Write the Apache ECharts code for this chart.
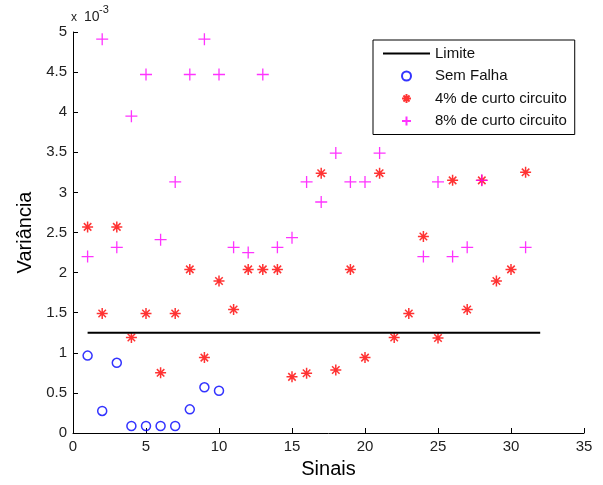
<!DOCTYPE html>
<html>
<head>
<meta charset="utf-8">
<script src="https://cdn.jsdelivr.net/npm/echarts@6/dist/echarts.min.js"></script>
<style>
  html, body { margin: 0; padding: 0; background: #fff; }
  #chart { width: 603px; height: 485px; }
</style>
</head>
<body>
<div id="chart"></div>
<script>
// values in units of 10^-3
var sinais = [1, 2, 3, 4, 5, 6, 7, 8, 9, 10, 11, 12, 13, 14, 15, 16, 17, 18, 19, 20, 21, 22, 23, 24, 25, 26, 27, 28, 29, 30, 31]
var limiteX = [1, 32]
var limiteY = [1.25, 1.25]

var semFalhaX = [1, 2, 3, 4, 5, 6, 7, 8, 9, 10]
var semFalhaY = [0.965, 0.275, 0.875, 0.087, 0.087, 0.087, 0.087, 0.295, 0.57, 0.527]

var curto4Y = [2.57, 1.49, 2.57, 1.19, 1.49, 0.75, 1.49, 2.04, 0.94, 1.895,
  1.54, 2.04, 2.04, 2.04, 0.70, 0.745, 3.24, 0.785, 2.04, 0.94,
  3.24, 1.19, 1.49, 2.45, 1.185, 3.15, 1.54, 3.15, 1.895, 2.04, 3.25]

var curto8X = [1, 2, 3, 4, 5, 6, 7, 8, 9, 10, 11, 12, 13, 14, 15, 16, 17, 18, 19, 20, 21, 24, 25, 26, 27, 28, 31]
var curto8Y = [2.20, 4.91, 2.315, 3.95, 4.47, 2.41, 3.13, 4.47, 4.91, 4.47,
  2.315, 2.25, 4.47, 2.315, 2.435, 3.13, 2.88, 3.49, 3.13, 3.13,
  3.49, 2.20, 3.13, 2.20, 2.315, 3.15, 2.315]

var xTicks = { min: 0, max: 35, interval: 5 }
var yTicks = { min: 0, max: 5, interval: 0.5 }

var pair = function (xs, ys) {
  return xs.map(function (x, i) { return [x, ys[i]] })
}

var chartDom = document.getElementById('chart')
var myChart = echarts.init(chartDom)
var font = 'Liberation Sans, Arial, sans-serif'

var option = {
  backgroundColor: '#fff',
  animation: false,
  grid: { left: 73, right: 19, top: 32, bottom: 52 },
  legend: {
    orient: 'vertical',
    left: 373,
    top: 40,
    padding: [6, 8, 6, 10],
    itemWidth: 47,
    itemHeight: 9,
    itemGap: 7.5,
    borderColor: '#000',
    borderWidth: 1,
    backgroundColor: '#fff',
    textStyle: { fontFamily: font, fontSize: 15, lineHeight: 15, color: '#111' },
    data: [
      { name: 'Limite', icon: 'path://M0,0 L47,0 L47,2 L0,2 Z' },
      'Sem Falha', '4% de curto circuito', '8% de curto circuito'
    ]
  },
  xAxis: {
    type: 'value',
    min: xTicks.min,
    max: xTicks.max,
    interval: xTicks.interval,
    name: 'Sinais',
    nameLocation: 'middle',
    nameGap: 26,
    nameTextStyle: { fontFamily: font, fontSize: 20, color: '#000' },
    axisLine: { lineStyle: { color: '#000', width: 1 } },
    axisTick: { inside: true, length: 5, lineStyle: { color: '#000' } },
    axisLabel: { fontFamily: font, fontSize: 15, color: '#222', margin: 6 },
    splitLine: { show: false }
  },
  yAxis: {
    type: 'value',
    min: yTicks.min,
    max: yTicks.max,
    interval: yTicks.interval,
    name: 'Variância',
    nameLocation: 'middle',
    nameGap: 36,
    nameTextStyle: { fontFamily: font, fontSize: 20, color: '#000' },
    axisLine: { show: true, lineStyle: { color: '#000', width: 1 } },
    axisTick: { show: true, inside: true, length: 5, lineStyle: { color: '#000' } },
    axisLabel: { fontFamily: font, fontSize: 15, color: '#222', margin: 6 },
    splitLine: { show: false }
  },
  graphic: [
    { type: 'text', left: 71, top: 12, style: { text: 'x', fontFamily: font, fontSize: 12, fill: '#222' } },
    { type: 'text', left: 84, top: 10, style: { text: '10', fontFamily: font, fontSize: 14, fill: '#222' } },
    { type: 'text', left: 99, top: 4, style: { text: '-3', fontFamily: font, fontSize: 11, fill: '#222' } }
  ],
  series: [
    {
      name: 'Limite',
      type: 'line',
      symbol: 'none',
      data: pair(limiteX, limiteY),
      lineStyle: { color: '#000', width: 2.2 },
      itemStyle: { color: '#000' }
    },
    {
      name: 'Sem Falha',
      type: 'scatter',
      symbol: 'circle',
      symbolSize: 9,
      data: pair(semFalhaX, semFalhaY),
      itemStyle: { color: 'rgba(0,0,0,0)', borderColor: '#0000ff', borderWidth: 1.5 }
    },
    {
      name: '4% de curto circuito',
      type: 'scatter',
      symbol: 'path://M5,0 L5,10 M0,5 L10,5 M1.6,1.6 L8.4,8.4 M8.4,1.6 L1.6,8.4',
      symbolSize: 11,
      data: pair(sinais, curto4Y),
      itemStyle: { color: 'rgba(0,0,0,0)', borderColor: '#ff0000', borderWidth: 1.5 }
    },
    {
      name: '8% de curto circuito',
      type: 'scatter',
      symbol: 'path://M5,0 L5,10 M0,5 L10,5',
      symbolSize: 12,
      data: pair(curto8X, curto8Y),
      itemStyle: { color: 'rgba(0,0,0,0)', borderColor: '#ff00ff', borderWidth: 1.3 }
    }
  ]
}

option && myChart.setOption(option)
</script>
</body>
</html>
